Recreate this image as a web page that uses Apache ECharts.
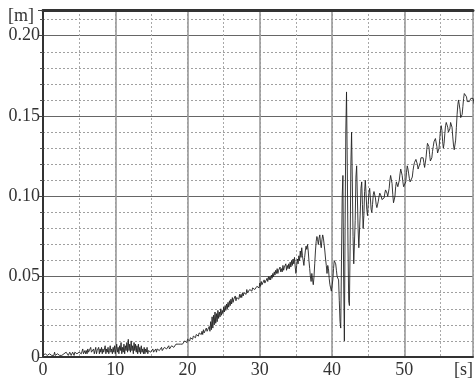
<!DOCTYPE html>
<html><head><meta charset="utf-8">
<script src="https://cdn.jsdelivr.net/npm/echarts@6/dist/echarts.min.js"></script>
<style>html,body{margin:0;padding:0;background:#fff}#c{width:476px;height:379px}</style>
</head><body><div id="c"></div>
<script>
// Sampling of the recorded trace
const sampleStartS = 0;
const sampleStepS = 0.1;
// Displacement [m], one value per 0.1 s
const displacementM = [
0.001,0.002,0.001,0.002,0.001,0.003,0.001,0.002,0.001,0.002,
0.001,0.002,0.001,0.001,0.002,0.001,0.003,0.001,0.002,0.001,
0.002,0.001,0.002,0.001,0.002,0.001,0.001,0.002,0.001,0.002,
0.001,0.002,0.003,0.002,0.002,0.001,0.002,0.003,0.002,0.001,
0.002,0.003,0.002,0.001,0.003,0.002,0.004,0.002,0.003,0.002,
0.003,0.002,0.004,0.002,0.003,0.005,0.002,0.003,0.004,0.002,
0.004,0.002,0.005,0.003,0.004,0.002,0.006,0.003,0.004,0.002,
0.005,0.002,0.004,0.006,0.002,0.004,0.003,0.006,0.002,0.005,
0.003,0.006,0.002,0.005,0.003,0.004,0.007,0.002,0.005,0.003,
0.006,0.002,0.004,0.007,0.003,0.005,0.002,0.006,0.003,0.007,
0.002,0.005,0.008,0.003,0.006,0.002,0.007,0.004,0.009,0.002,
0.006,0.003,0.008,0.002,0.007,0.004,0.009,0.003,0.011,0.004,
0.008,0.003,0.010,0.004,0.007,0.002,0.009,0.004,0.008,0.003,
0.007,0.002,0.008,0.003,0.006,0.002,0.007,0.003,0.005,0.002,
0.006,0.002,0.005,0.003,0.006,0.002,0.004,0.003,0.005,0.003,
0.004,0.003,0.005,0.003,0.004,0.004,0.005,0.003,0.005,0.004,
0.005,0.004,0.005,0.004,0.006,0.004,0.005,0.005,0.006,0.005,
0.006,0.005,0.006,0.005,0.007,0.005,0.006,0.006,0.007,0.006,
0.007,0.006,0.007,0.006,0.008,0.007,0.007,0.008,0.007,0.008,
0.008,0.007,0.009,0.008,0.009,0.008,0.010,0.009,0.010,0.009,
0.011,0.010,0.011,0.010,0.012,0.011,0.012,0.011,0.013,0.012,
0.013,0.012,0.014,0.013,0.014,0.013,0.015,0.014,0.015,0.014,
0.016,0.014,0.017,0.015,0.016,0.015,0.018,0.016,0.017,0.016,
0.019,0.016,0.022,0.017,0.025,0.018,0.026,0.020,0.028,0.021,
0.027,0.022,0.029,0.024,0.028,0.025,0.030,0.026,0.029,0.027,
0.031,0.028,0.032,0.029,0.033,0.030,0.034,0.031,0.035,0.032,
0.036,0.033,0.037,0.034,0.036,0.035,0.038,0.035,0.037,0.036,
0.038,0.036,0.039,0.037,0.039,0.037,0.040,0.038,0.040,0.039,
0.041,0.039,0.042,0.040,0.041,0.040,0.042,0.041,0.043,0.041,
0.043,0.042,0.044,0.042,0.043,0.042,0.044,0.043,0.045,0.043,
0.046,0.044,0.047,0.045,0.046,0.045,0.048,0.046,0.047,0.046,
0.049,0.047,0.050,0.048,0.050,0.048,0.051,0.049,0.052,0.050,
0.053,0.051,0.054,0.052,0.055,0.052,0.054,0.053,0.056,0.053,
0.055,0.053,0.057,0.054,0.056,0.055,0.058,0.054,0.057,0.055,
0.058,0.055,0.059,0.056,0.060,0.057,0.061,0.058,0.062,0.056,
0.052,0.057,0.061,0.058,0.063,0.060,0.066,0.062,0.068,0.063,
0.060,0.057,0.062,0.066,0.069,0.067,0.070,0.066,0.060,0.055,
0.050,0.047,0.052,0.048,0.045,0.050,0.058,0.066,0.072,0.075,
0.073,0.070,0.074,0.076,0.071,0.068,0.073,0.076,0.074,0.070,
0.066,0.061,0.057,0.052,0.057,0.055,0.049,0.045,0.043,0.041,
0.041,0.048,0.055,0.060,0.061,0.058,0.054,0.050,0.049,0.048,
0.035,0.022,0.018,0.060,0.100,0.113,0.050,0.010,0.080,0.140,
0.165,0.120,0.070,0.035,0.032,0.070,0.120,0.140,0.110,0.075,
0.058,0.057,0.085,0.112,0.119,0.100,0.080,0.068,0.068,0.090,
0.105,0.109,0.095,0.080,0.088,0.103,0.110,0.102,0.092,0.088,
0.095,0.102,0.105,0.099,0.092,0.090,0.095,0.101,0.103,0.103,
0.099,0.095,0.093,0.094,0.097,0.100,0.102,0.102,0.100,0.098,
0.097,0.097,0.099,0.102,0.104,0.104,0.102,0.100,0.100,0.105,
0.110,0.113,0.113,0.108,0.101,0.096,0.095,0.100,0.106,0.109,
0.108,0.106,0.107,0.110,0.114,0.117,0.117,0.113,0.109,0.106,
0.105,0.105,0.109,0.115,0.119,0.117,0.114,0.111,0.109,0.110,
0.109,0.112,0.116,0.119,0.121,0.122,0.123,0.123,0.120,0.117,
0.116,0.118,0.121,0.124,0.125,0.125,0.124,0.121,0.118,0.119,
0.124,0.129,0.133,0.134,0.131,0.126,0.122,0.121,0.124,0.128,
0.131,0.134,0.135,0.136,0.135,0.131,0.127,0.126,0.130,0.136,
0.141,0.144,0.141,0.134,0.130,0.133,0.139,0.144,0.146,0.146,
0.143,0.140,0.139,0.142,0.146,0.147,0.143,0.137,0.132,0.129,
0.129,0.135,0.143,0.151,0.157,0.160,0.159,0.154,0.149,0.148,
0.151,0.156,0.161,0.164,0.165,0.164,0.162,0.159,0.158,0.158,
0.159,0.160,0.161,0.162,0.162,0.161,0.159,0.157,0.158,0.160
];
const xLabeledTicks = [0, 10, 20, 30, 40, 50];
const yLabeledTicks = [0, 0.05, 0.10, 0.15, 0.20];
const yTickLabels = ['0', '0.05', '0.10', '0.15', '0.20'];
const xUnitLabel = '[s]';
const yUnitLabel = '[m]';

const points = displacementM.map((v, i) => [Math.round((sampleStartS + i * sampleStepS) * 10) / 10, v]);

const FONT = 'Liberation Serif';
const chart = echarts.init(document.getElementById('c'), null, {renderer: 'canvas'});
chart.setOption({
  animation: false,
  backgroundColor: '#fff',
  grid: {left: 43, top: 10, right: 0, bottom: 20, containLabel: false},
  xAxis: [
    {
      type: 'value', min: 0, max: 59.5, interval: 5, position: 'top',
      axisLine: {show: true, onZero: false, lineStyle: {color: '#333', width: 3}},
      axisTick: {show: false},
      axisLabel: {show: false},
      splitLine: {show: true, lineStyle: {color: '#a8a8a8', width: 1, type: [2, 2]}}
    },
    {
      type: 'value', min: 0, max: 59.5, interval: 10, position: 'bottom',
      axisLine: {show: true, onZero: false, lineStyle: {color: '#333', width: 2}},
      axisTick: {show: false},
      axisLabel: {
        fontFamily: FONT, fontSize: 18, color: '#333', margin: 4,
        formatter: v => xLabeledTicks.includes(v) ? String(v) : ''
      },
      splitLine: {show: true, lineStyle: {color: '#9a9a9a', width: 1.6}}
    }
  ],
  yAxis: [
    {
      type: 'value', min: 0, max: 0.216, interval: 0.01, position: 'left',
      axisLine: {show: false},
      axisTick: {show: true, length: 3, lineStyle: {color: '#555', width: 1}},
      axisLabel: {show: false},
      splitLine: {show: true, lineStyle: {color: '#a0a0a0', width: 1, type: [2, 2]}}
    },
    {
      type: 'value', min: 0, max: 0.216, interval: 0.05, position: 'left',
      axisLine: {show: true, onZero: false, lineStyle: {color: '#333', width: 2}},
      axisTick: {show: true, length: 5, lineStyle: {color: '#444', width: 1}},
      axisLabel: {
        fontFamily: FONT, fontSize: 18, color: '#333', margin: 3,
        formatter: v => {
          const i = yLabeledTicks.findIndex(t => Math.abs(t - v) < 1e-9);
          return i >= 0 ? yTickLabels[i] : '';
        }
      },
      splitLine: {show: true, lineStyle: {color: '#666', width: 1.2}}
    }
  ],
  graphic: [
    {type: 'text', left: 8, top: 7, style: {text: yUnitLabel, font: '18px "Liberation Serif"', fill: '#333'}},
    {type: 'text', right: 3, bottom: 0, style: {text: xUnitLabel, font: '18px "Liberation Serif"', fill: '#333'}}
  ],
  series: [{
    type: 'line', xAxisIndex: 1, yAxisIndex: 1, data: points,
    showSymbol: false, symbol: 'none', clip: true,
    lineStyle: {color: '#222', width: 0.9}
  }]
});
</script>
</body></html>
